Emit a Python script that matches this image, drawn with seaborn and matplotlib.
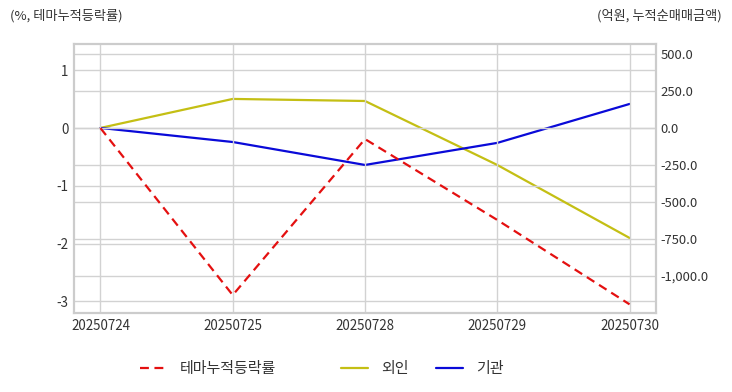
import matplotlib
matplotlib.use('Agg')
import matplotlib.pyplot as plt
import matplotlib.ticker as mticker
import seaborn as sns
import pandas as pd

# data
dates = ['20250724', '20250725', '20250728', '20250729', '20250730']
theme_rate = [0.0, -2.89, -0.19, -1.59, -3.05]
foreign = [0.0, 196.0, 182.0, -250.0, -743.0]
institution = [0.0, -95.0, -250.0, -101.0, 162.0]

df = pd.DataFrame({'date': dates, 'theme': theme_rate,
                   'foreign': foreign, 'inst': institution})
df['x'] = range(len(df))

sns.set_theme(style='whitegrid')
plt.rcParams['font.family'] = ['Noto Sans CJK KR', 'DejaVu Sans']
plt.rcParams['axes.unicode_minus'] = False

fig = plt.figure(figsize=(7.32, 3.92), dpi=100)
ax = fig.add_axes([74 / 732, 1 - 313 / 392, (656 - 74) / 732, (313 - 44) / 392])
ax2 = ax.twinx()

sns.lineplot(data=df, x='x', y='theme', ax=ax, color='#e41010', lw=1.6,
             linestyle=(0, (4, 2.5)), label='테마누적등락률', legend=False)
sns.lineplot(data=df, x='x', y='foreign', ax=ax2, color='#c4bf14', lw=1.6,
             label='외인', legend=False)
sns.lineplot(data=df, x='x', y='inst', ax=ax2, color='#0a0ad8', lw=1.6,
             label='기관', legend=False)

ax.set_xlim(-0.2, 4.2)
ax.set_ylim(-3.2, 1.455)
ax2.set_ylim(-1250, 567)
ax.set_xticks(range(len(dates)))
ax.set_xticklabels(dates)
ax.set_yticks([1, 0, -1, -2, -3])
ax2.set_yticks([500, 250, 0, -250, -500, -750, -1000])
ax2.yaxis.set_major_formatter(mticker.FuncFormatter(lambda v, p: f'{v:,.1f}'))
ax.set_xlabel('')
ax.set_ylabel('')
ax2.set_ylabel('')

grid_c = '#d2d2d2'
for a in (ax, ax2):
    a.grid(True, color=grid_c, lw=1.0)
    a.tick_params(labelsize=9.6, colors='#333333', length=0, pad=4)
    for s in a.spines.values():
        s.set_color('#cccccc')
        s.set_linewidth(1.5)
ax2.grid(axis='x', visible=False)
ax.set_zorder(ax2.get_zorder() + 1)
ax.patch.set_visible(False)
ax2.tick_params(axis='y', pad=3, labelsize=9.4)

fig.text(10 / 732, 1 - 16 / 392, '(%, 테마누적등락률)', fontsize=9.5,
         color='#333333', ha='left', va='center')
fig.text(722 / 732, 1 - 16 / 392, '(억원, 누적순매매금액)', fontsize=9.5,
         color='#333333', ha='right', va='center')

# legend: one entry each, placed like the original
h1, l1 = ax.get_legend_handles_labels()
h2, l2 = ax2.get_legend_handles_labels()
handles = h1 + h2
labels = l1 + l2
lefts = [140, 341, 436]
for h, l, x0 in zip(handles, labels, lefts):
    fig.legend([h], [l], loc='center left', bbox_to_anchor=(x0 / 732, 1 - 369 / 392),
               frameon=False, fontsize=10.8, labelcolor='#333333',
               handlelength=1.8, handletextpad=0.85, borderpad=0, borderaxespad=0)

fig.savefig('out.png', dpi=100)
